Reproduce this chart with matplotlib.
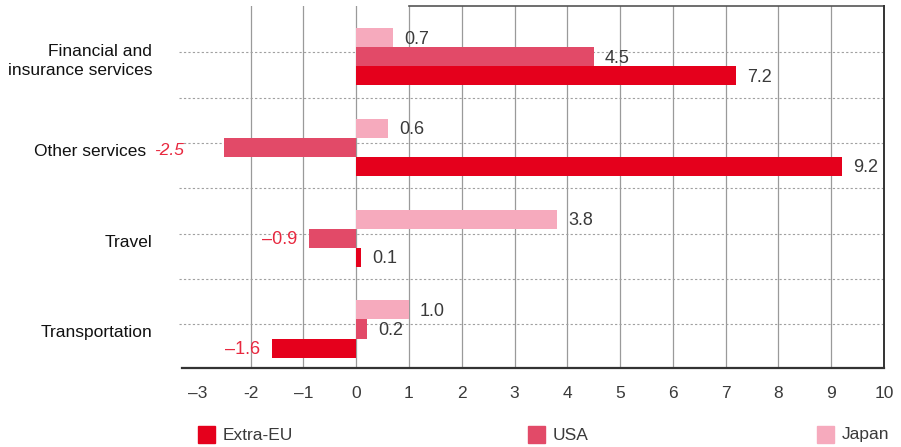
import matplotlib
matplotlib.use("Agg")
import matplotlib.pyplot as plt
import numpy as np
from matplotlib.patches import Rectangle

plt.rcParams["font.family"] = ["Liberation Sans", "DejaVu Sans"]

categories = ["Financial and\ninsurance services", "Other services", "Travel", "Transportation"]
series_names = ["Extra-EU", "USA", "Japan"]
extra_eu = [7.2, 9.2, 0.1, -1.6]
usa = [4.5, -2.5, -0.9, 0.2]
japan = [0.7, 0.6, 3.8, 1.0]
x_ticks = [-3, -2, -1, 0, 1, 2, 3, 4, 5, 6, 7, 8, 9, 10]
x_tick_labels = ["\u20133", "-2", "\u20131", "0", "1", "2", "3", "4", "5", "6", "7", "8", "9", "10"]

colors = {"Extra-EU": "#e5001c", "USA": "#e24a68", "Japan": "#f6aabd"}
neg_color = "#e8283f"
text_color = "#3a3a3a"

fig = plt.figure(figsize=(9.01, 4.47), dpi=100)
ax = fig.add_axes([182 / 901, 1 - 368 / 447, (884 - 182) / 901, (368 - 6) / 447])

ypos = np.arange(len(categories))[::-1].astype(float)
bar_h = 0.21
offsets = {"Japan": bar_h, "USA": 0.0, "Extra-EU": -bar_h}
values = {"Extra-EU": extra_eu, "USA": usa, "Japan": japan}

ax.set_xlim(-3.3, 10)
ax.set_ylim(-0.43, 3.56)
px = (10 + 3.3) / (884 - 182)  # data units per pixel (x)
py = (3.56 + 0.43) / (368 - 6)  # data units per pixel (y)

# grid
for x in range(-2, 10):
    ax.axvline(x, color="#9a9a9a", lw=0.9, zorder=0)
for y in np.arange(7) * 0.5 + 0.05:
    ax.plot([-3.35, 10], [y, y], color="#a0a0a0", lw=0.8, ls=(0, (2, 2)), zorder=0, clip_on=False)

# the USA value for "Other services" sits next to the category name instead
skip = ("USA", 1)

for name in ["Japan", "USA", "Extra-EU"]:
    vals = values[name]
    ys = ypos + offsets[name]
    ax.barh(ys, vals, height=bar_h, color=colors[name], edgecolor="none", zorder=2)
    for i, (y, v) in enumerate(zip(ys, vals)):
        if (name, i) == skip:
            continue
        if v >= 0:
            ax.annotate(f"{v:.1f}", (v, y), xytext=(8, -1), textcoords="offset points",
                        ha="left", va="center", fontsize=13, color=text_color)
        else:
            ax.annotate(f"\u2013{abs(v):.1f}", (v, y), xytext=(-8, -1), textcoords="offset points",
                        ha="right", va="center", fontsize=13, color=neg_color)

# category labels
label_right = -3.3 - 30 * px
for i, (y, cat) in enumerate(zip(ypos, categories)):
    xr = label_right - (6 * px if i == skip[1] else 0)
    ax.text(xr, y - 4 * py, cat, ha="right", va="center", fontsize=12.5, color="#111111",
            linespacing=1.3, clip_on=False)
v_other = usa[skip[1]]
ax.text(-3.3 - 28 * px, ypos[skip[1]] - 3 * py, f"{v_other:.1f}", ha="left", va="center",
        fontsize=12.5, color=neg_color, style="italic", clip_on=False)

ax.set_xticks(x_ticks)
ax.set_xticklabels(x_tick_labels, fontsize=12.5, color=text_color)
ax.set_yticks([])
ax.tick_params(axis="x", length=0, pad=13)

ax.spines["left"].set_visible(False)
ax.spines["top"].set_visible(False)
ax.spines["bottom"].set_color("#333333")
ax.spines["bottom"].set_linewidth(1.6)
ax.spines["right"].set_color("#333333")
ax.spines["right"].set_linewidth(1.4)
ax.plot([1, 10], [1, 1], transform=ax.get_xaxis_transform(), color="#555555", lw=1.2, clip_on=False)

# legend along the bottom
leg_items = [(198, "Extra-EU"), (528, "USA"), (817, "Japan")]
for lx, name in leg_items:
    fig.patches.append(Rectangle((lx / 901, 1 - 443 / 447), 17 / 901, 17 / 447,
                                 transform=fig.transFigure, color=colors[name]))
    fig.text((lx + 25) / 901, 1 - 435 / 447, name, ha="left", va="center",
             fontsize=12.5, color=text_color)

fig.savefig("out.png", dpi=100)
